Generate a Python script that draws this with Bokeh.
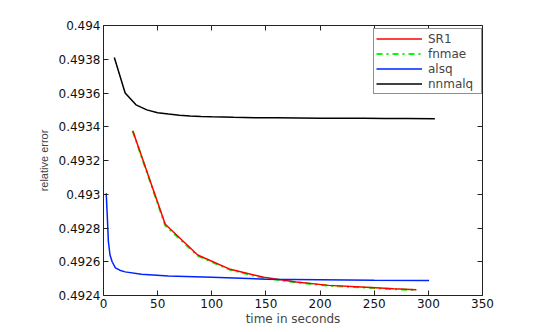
from bokeh.plotting import figure
from bokeh.models import Legend, LegendItem, LinearAxis, FixedTicker, CustomLabelingPolicy
from bokeh.embed import file_html
from bokeh.resources import INLINE

# ---- data ----
sr1_t = [27, 57, 87, 117, 148, 178, 208, 238, 268, 289]
sr1_err = [0.493376, 0.492822, 0.492640, 0.492555, 0.492508, 0.492480, 0.492460, 0.492450, 0.492440, 0.492434]

fnmae_t = [27, 57, 87, 117, 148, 178, 208, 238, 268, 289]
fnmae_err = [0.493374, 0.492815, 0.492635, 0.492552, 0.492503, 0.492478, 0.492458, 0.492448, 0.492438, 0.492432]

alsq_t = [2.5, 3.5, 4.5, 6, 8, 11, 15, 20, 35, 60, 100, 150, 200, 250, 300.7]
alsq_err = [0.493006, 0.492870, 0.492720, 0.492640, 0.492600, 0.492564, 0.492550, 0.492540, 0.492526,
            0.492516, 0.492508, 0.492497, 0.492493, 0.492490, 0.492489]

nnmalq_t = [10, 20, 30, 40, 50, 60, 70, 80, 90, 100, 120, 140, 160, 180, 200, 220, 240, 260, 280, 306]
nnmalq_err = [0.49381, 0.49360, 0.49353, 0.493500, 0.493483, 0.493475, 0.493468, 0.493464, 0.493461,
              0.493459, 0.493456, 0.493454, 0.493453, 0.493452, 0.493451, 0.493450, 0.493450,
              0.493449, 0.493449, 0.493448]

x_ticks = [0, 50, 100, 150, 200, 250, 300, 350]
y_ticks = [0.4924, 0.4926, 0.4928, 0.493, 0.4932, 0.4934, 0.4936, 0.4938, 0.494]
y_tick_labels = ["0.4924", "0.4926", "0.4928", "0.493", "0.4932", "0.4934", "0.4936", "0.4938", "0.494"]

FONT = "DejaVu Sans"

p = figure(width=554, height=332, x_range=(0, 350), y_range=(0.4924, 0.494),
           output_backend="svg", toolbar_location=None,
           min_border_left=103, min_border_right=72, min_border_top=25, min_border_bottom=37)
p.xgrid.visible = False
p.ygrid.visible = False
p.outline_line_color = None
p.background_fill_color = "white"
p.border_fill_color = "white"

def style_axis(ax):
    ax.major_tick_in = 5
    ax.major_tick_out = 0
    ax.minor_tick_line_color = None
    ax.axis_line_color = "#222222"
    ax.major_tick_line_color = "#222222"
    ax.major_label_text_font = FONT
    ax.major_label_text_font_size = "12px"
    ax.major_label_text_color = "#111111"
    ax.major_label_standoff = 3

xa = p.xaxis[0]
xa.ticker = FixedTicker(ticks=x_ticks)
style_axis(xa)
xa.axis_label = "time in seconds"
xa.axis_label_text_font = FONT
xa.axis_label_text_font_size = "12px"
xa.axis_label_text_font_style = "normal"
xa.axis_label_standoff = 1

ya = p.yaxis[0]
ya.ticker = FixedTicker(ticks=y_ticks)
ya.major_label_overrides = {t: s for t, s in zip(y_ticks, y_tick_labels)}
style_axis(ya)
ya.axis_label = "relative error"
ya.axis_label_text_font = "Liberation Sans"
ya.axis_label_text_font_size = "11px"
ya.axis_label_text_font_style = "normal"
ya.axis_label_standoff = 6

no_labels = "const all = [...indices]; for (const i of all) { indices.unset(i) } return indices"

top = LinearAxis(ticker=FixedTicker(ticks=x_ticks))
style_axis(top)
top.major_label_policy = CustomLabelingPolicy(code=no_labels)
p.add_layout(top, "above")
right = LinearAxis(ticker=FixedTicker(ticks=y_ticks))
style_axis(right)
right.major_label_policy = CustomLabelingPolicy(code=no_labels)
p.add_layout(right, "right")

r_fn = p.line(fnmae_t, fnmae_err, line_color="#00ff00", line_width=2, line_dash="dashdot")
r_sr = p.line(sr1_t, sr1_err, line_color="#ff0000", line_width=1.5)
r_al = p.line(alsq_t, alsq_err, line_color="#0022ff", line_width=1.5)
r_nn = p.line(nnmalq_t, nnmalq_err, line_color="black", line_width=1.5)

legend = Legend(items=[LegendItem(label="SR1", renderers=[r_sr]),
                       LegendItem(label="fnmae", renderers=[r_fn]),
                       LegendItem(label="alsq", renderers=[r_al]),
                       LegendItem(label="nnmalq", renderers=[r_nn])],
                location=(270, 201))
legend.padding = 2
legend.spacing = 0
legend.margin = 0
legend.glyph_width = 46
legend.glyph_height = 15
legend.label_height = 15
legend.label_width = 51
legend.label_standoff = 6
legend.label_text_font = FONT
legend.label_text_font_size = "12px"
legend.border_line_color = "#222222"
legend.border_line_width = 1
legend.background_fill_color = "white"
legend.background_fill_alpha = 1
p.add_layout(legend, "center")

open("out.html", "w").write(file_html(p, INLINE))
